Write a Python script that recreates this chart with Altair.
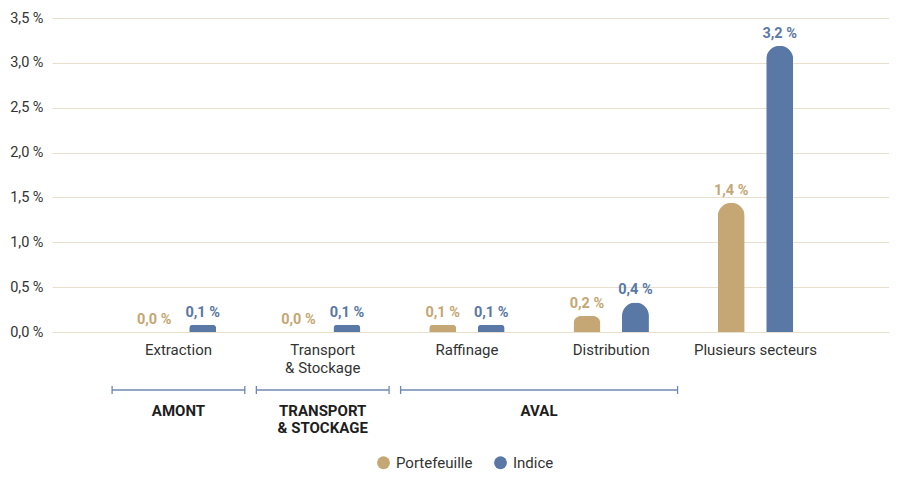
import altair as alt
import pandas as pd

categories = ["Extraction", "Transport\n& Stockage", "Raffinage", "Distribution", "Plusieurs secteurs"]
portefeuille = [0.0, 0.0, 0.08, 0.18, 1.44]
indice = [0.08, 0.08, 0.08, 0.33, 3.19]
portefeuille_labels = ["0,0 %", "0,0 %", "0,1 %", "0,2 %", "1,4 %"]
indice_labels = ["0,1 %", "0,1 %", "0,1 %", "0,4 %", "3,2 %"]
series = ["Portefeuille", "Indice"]
colors = ["#C4A774", "#5A78A5"]
groups = ["AMONT", "TRANSPORT\n& STOCKAGE", "AVAL"]
group_first = [0, 1, 2]
group_last = [0, 1, 3]
y_ticks = [0, 0.5, 1.0, 1.5, 2.0, 2.5, 3.0, 3.5]

FONT = "Roboto"
rows = []
for i, c in enumerate(categories):
    rows.append({"idx": i, "cat": c, "series": series[0], "value": portefeuille[i], "label": portefeuille_labels[i]})
    rows.append({"idx": i, "cat": c, "series": series[1], "value": indice[i], "label": indice_labels[i]})
df = pd.DataFrame(rows)
cat_df = pd.DataFrame({"idx": list(range(len(categories))), "cat": categories})
grp_df = pd.DataFrame({"group": groups, "first": group_first, "last": group_last})

xscale = alt.Scale(domain=[-0.842, 4.891], nice=False, zero=False)
yscale = alt.Scale(domain=[0, 3.5], nice=False)
cscale = alt.Scale(domain=series, range=colors)

base = alt.Chart(df).transform_calculate(
    pos="datum.idx + (datum.series == 'Portefeuille' ? -0.168 : 0.168)"
)

bars = base.mark_bar(size=27, cornerRadiusTopLeft=13.5, cornerRadiusTopRight=13.5).encode(
    x=alt.X("pos:Q", scale=xscale, axis=None),
    y=alt.Y("value:Q", scale=yscale, axis=alt.Axis(
        values=y_ticks, title=None, grid=True, gridColor="#E9DFCF", gridWidth=1.2,
        domain=False, ticks=False, labelPadding=9, labelFontSize=14.5, labelFont=FONT,
        labelColor="#333333",
        labelExpr="replace(format(datum.value, '.1f'), '.', ',') + ' %'")),
    color=alt.Color("series:N", scale=cscale, legend=alt.Legend(
        title=None, orient="none", legendX=324, legendY=437, direction="horizontal",
        symbolType="circle", symbolSize=165, symbolStrokeWidth=0, labelFont=FONT,
        labelFontSize=15, labelColor="#333333", columnPadding=20, labelOffset=5)),
)

values = base.mark_text(baseline="alphabetic", dy=-8, fontWeight="bold", fontSize=14.5, font=FONT).encode(
    x=alt.X("pos:Q", scale=xscale),
    y=alt.Y("value:Q", scale=yscale),
    text="label:N",
    color=alt.Color("series:N", scale=cscale, legend=None),
)

cat_labels = alt.Chart(cat_df).mark_text(
    baseline="alphabetic", fontSize=15, font=FONT, color="#333333", lineBreak="\n", lineHeight=18
).encode(
    x=alt.X("idx:Q", scale=xscale),
    y=alt.value(337),
    text="cat:N",
)

gbase = alt.Chart(grp_df).transform_calculate(
    x1="datum.first - 0.46", x2="datum.last + 0.46", mid="(datum.first + datum.last) / 2"
)
bracket = gbase.mark_rule(color="#6F88AF", strokeWidth=1.3).encode(
    x=alt.X("x1:Q", scale=xscale), x2="x2:Q", y=alt.value(372)
)
left_end = gbase.mark_rule(color="#6F88AF", strokeWidth=1.3).encode(
    x=alt.X("x1:Q", scale=xscale), y=alt.value(368), y2=alt.value(376)
)
right_end = gbase.mark_rule(color="#6F88AF", strokeWidth=1.3).encode(
    x=alt.X("x2:Q", scale=xscale), y=alt.value(368), y2=alt.value(376)
)
grp_labels = gbase.mark_text(
    baseline="alphabetic", fontSize=15, fontWeight="bold", font=FONT, color="#1E1E1E",
    lineBreak="\n", lineHeight=17
).encode(
    x=alt.X("mid:Q", scale=xscale), y=alt.value(398), text="group:N"
)

chart = alt.layer(bars, values, cat_labels, bracket, left_end, right_end, grp_labels).properties(
    width=837, height=314,
    autosize=alt.AutoSizeParams(type="none"),
    padding={"left": 44, "top": 10, "right": 0, "bottom": 140},
).configure_view(stroke=None)

chart.save("out.html", embed_options={"renderer": "svg", "actions": False})
